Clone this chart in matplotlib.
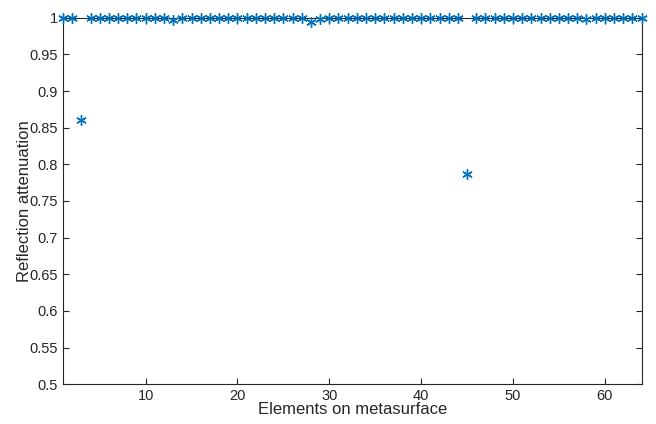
import matplotlib
matplotlib.use("Agg")
import matplotlib.pyplot as plt

plt.rcParams['font.family'] = ['Liberation Sans', 'DejaVu Sans']

# element index and reflection attenuation per element
elements = list(range(1, 65))
attenuation = [1.0] * 64
attenuation[3 - 1] = 0.86
attenuation[13 - 1] = 0.997
attenuation[28 - 1] = 0.994
attenuation[29 - 1] = 0.998
attenuation[45 - 1] = 0.787
attenuation[58 - 1] = 0.999

xticks = [10, 20, 30, 40, 50, 60]
yticks = [0.5, 0.55, 0.6, 0.65, 0.7, 0.75, 0.8, 0.85, 0.9, 0.95, 1.0]
ytick_labels = ['0.5', '0.55', '0.6', '0.65', '0.7', '0.75', '0.8', '0.85', '0.9', '0.95', '1']

fig = plt.figure(figsize=(6.56, 4.24), dpi=100)
ax = fig.add_axes([0.096, 0.094, 0.882, 0.864])

ax.plot(elements, attenuation, linestyle='none', marker=(6, 2, 0),
        markersize=7.5, markeredgewidth=1.0, color='#0072BD', clip_on=False, zorder=5)

ax.set_xlim(1, 64)
ax.set_ylim(0.5, 1.0)
ax.set_xticks(xticks)
ax.set_yticks(yticks)
ax.set_yticklabels(ytick_labels)

axis_color = '#262626'
for s in ax.spines.values():
    s.set_color(axis_color)
    s.set_linewidth(0.8)
ax.tick_params(direction='in', length=4, width=0.8, colors=axis_color,
               labelsize=10.5, top=True, right=True)

ax.set_xlabel('Elements on metasurface', fontsize=12, color=axis_color, labelpad=-1)
ax.set_ylabel('Reflection attenuation', fontsize=12, color=axis_color, labelpad=-2)

fig.savefig('out.png', dpi=100)
